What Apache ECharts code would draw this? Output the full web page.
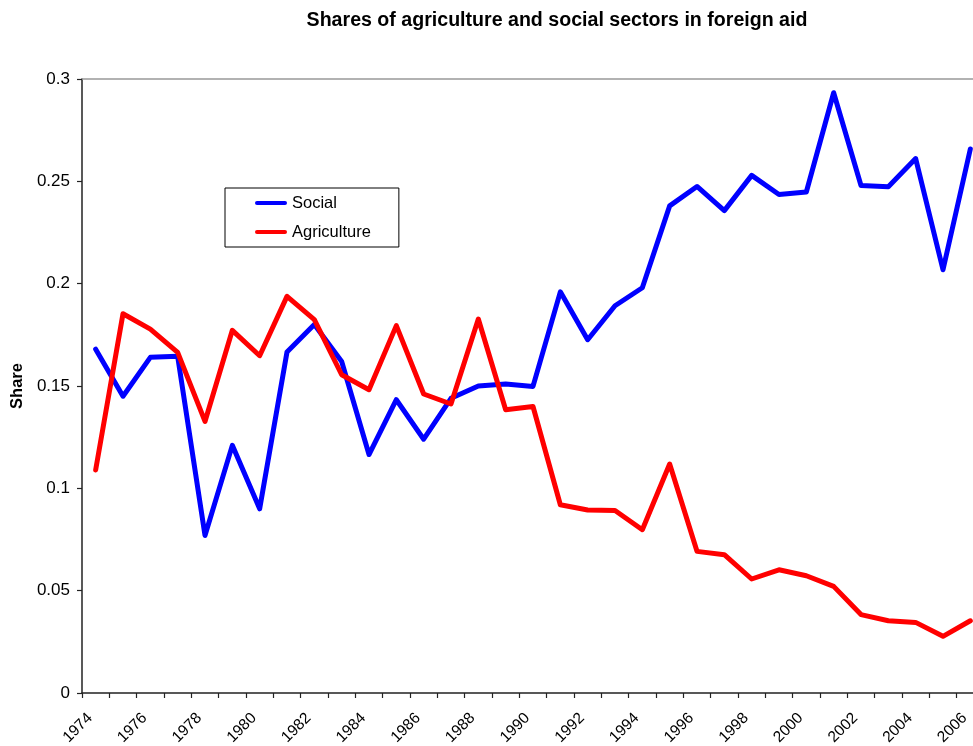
<!DOCTYPE html>
<html>
<head>
<meta charset="utf-8">
<script src="https://cdn.jsdelivr.net/npm/echarts@6/dist/echarts.min.js"></script>
<style>
  html, body { margin: 0; padding: 0; background: #fff; overflow: hidden; }
  #chart { width: 984px; height: 746px; }
</style>
</head>
<body>
<div id="chart"></div>
<script>
const years = ['1974','1975','1976','1977','1978','1979','1980','1981','1982','1983','1984','1985','1986','1987','1988','1989','1990','1991','1992','1993','1994','1995','1996','1997','1998','1999','2000','2001','2002','2003','2004','2005','2006'];
const social = [0.168, 0.145, 0.164, 0.1645, 0.077, 0.121, 0.090, 0.1666, 0.180, 0.162, 0.1165, 0.1433, 0.124, 0.144, 0.150, 0.151, 0.1498, 0.196, 0.1726, 0.1892, 0.198, 0.238, 0.2475, 0.2357, 0.2529, 0.2436, 0.2448, 0.2933, 0.248, 0.2474, 0.2611, 0.2068, 0.2658];
const agriculture = [0.109, 0.1853, 0.1778, 0.1664, 0.1327, 0.1772, 0.1648, 0.1938, 0.1824, 0.1555, 0.1482, 0.1795, 0.1461, 0.1412, 0.1827, 0.1384, 0.140, 0.092, 0.0894, 0.0892, 0.0798, 0.1119, 0.0692, 0.0676, 0.0557, 0.0602, 0.0573, 0.0521, 0.0383, 0.0353, 0.0345, 0.0277, 0.0353];
const yTicks = { min: 0, max: 0.3, interval: 0.05 };
const titleText = 'Shares of agriculture and social sectors in foreign aid';
const yName = 'Share';

const FONT = '"Liberation Sans", Arial, sans-serif';
const LINE_ICON = 'path://M2,0 L30,0 A2,2 0 0 1 30,4 L2,4 A2,2 0 0 1 2,0 Z';
const chart = echarts.init(document.getElementById('chart'));
chart.setOption({
  animation: false,
  backgroundColor: '#ffffff',
  textStyle: { fontFamily: FONT },
  title: {
    text: titleText,
    left: 552,
    textAlign: 'center',
    top: 6,
    textStyle: { fontFamily: FONT, fontSize: 19.6, fontWeight: 'bold', color: '#000' }
  },
  legend: {
    orient: 'vertical',
    left: 225,
    top: 188,
    padding: [5, 28, 5, 30],
    itemGap: 9,
    itemWidth: 32,
    itemHeight: 5,
    borderColor: '#000',
    borderWidth: 1,
    textStyle: { fontFamily: FONT, fontSize: 16.5, color: '#000', lineHeight: 20 },
    data: [
      { name: 'Social', icon: LINE_ICON, itemStyle: { color: '#0000ff' } },
      { name: 'Agriculture', icon: LINE_ICON, itemStyle: { color: '#ff0000' } }
    ]
  },
  grid: { left: 82, top: 79, width: 902, height: 614, containLabel: false, outerBoundsMode: 'none' },
  xAxis: [{
    type: 'category',
    data: years,
    boundaryGap: true,
    axisLine: { lineStyle: { color: '#222', width: 1.5 } },
    axisTick: { show: true, interval: 0, length: 5, lineStyle: { color: '#222', width: 1.2 } },
    axisLabel: { interval: 1, rotate: 45, fontSize: 15.5, color: '#000', fontFamily: FONT, margin: 17, padding: [0, 8, 0, 0] },
    splitLine: { show: false }
  }, {
    type: 'category',
    data: years,
    position: 'top',
    axisLine: { show: true, lineStyle: { color: '#999', width: 1.5 } },
    axisTick: { show: false },
    axisLabel: { show: false },
    splitLine: { show: false }
  }],
  yAxis: {
    type: 'value',
    min: yTicks.min,
    max: yTicks.max,
    interval: yTicks.interval,
    name: yName,
    nameLocation: 'middle',
    nameGap: 50,
    nameRotate: 90,
    nameTextStyle: { fontFamily: FONT, fontSize: 16.5, fontWeight: 'bold', color: '#000' },
    axisLine: { show: true, lineStyle: { color: '#222', width: 1.5 } },
    axisTick: { show: true, length: 5, lineStyle: { color: '#222', width: 1.2 } },
    axisLabel: { fontSize: 17, color: '#000', fontFamily: FONT, margin: 12 },
    splitLine: { show: false }
  },
  series: [{
    name: 'Social',
    type: 'line',
    data: social,
    symbol: 'none',
    lineStyle: { color: '#0000ff', width: 5, cap: 'round', join: 'round' },
    itemStyle: { color: '#0000ff' }
  }, {
    name: 'Agriculture',
    type: 'line',
    data: agriculture,
    symbol: 'none',
    lineStyle: { color: '#ff0000', width: 5, cap: 'round', join: 'round' },
    itemStyle: { color: '#ff0000' }
  }]
});
</script>
</body>
</html>
